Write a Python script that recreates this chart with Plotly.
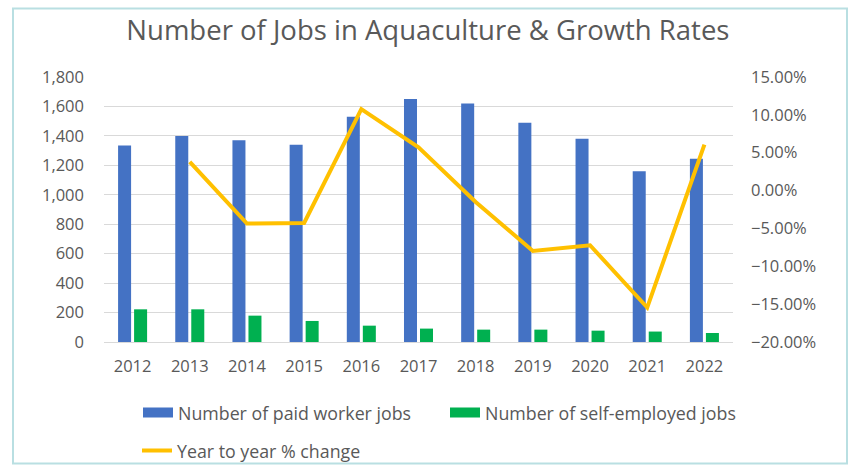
import plotly.graph_objects as go

# Aquaculture employment by year
years = ["2012", "2013", "2014", "2015", "2016", "2017", "2018", "2019", "2020", "2021", "2022"]
paid_jobs = [1335, 1400, 1370, 1340, 1530, 1650, 1620, 1490, 1380, 1160, 1245]
self_employed_jobs = [222, 222, 179, 143, 111, 91, 84, 84, 77, 71, 61]
yoy_change = [None, 0.038, -0.0435, -0.0428, 0.1075, 0.057, -0.015, -0.0798, -0.0722, -0.1545, 0.0608]

BLUE = "#4472C4"
GREEN = "#00B050"
GOLD = "#FFC000"
TEXT = "#595959"
FONT = "Open Sans"

W, H = 849, 466
L, R, T, B = 104, 116, 77, 124
PW, PH = W - L - R, H - T - B


def px_x(p):
    return (p - L) / PW


def px_y(p):
    return (H - B - p) / PH


fig = go.Figure()

fig.add_trace(go.Bar(x=years, y=paid_jobs, name="Number of paid worker jobs",
                     marker=dict(color=BLUE, line=dict(width=0)), showlegend=False))
fig.add_trace(go.Bar(x=years, y=self_employed_jobs, name="Number of self-employed jobs",
                     marker=dict(color=GREEN, line=dict(width=0)), showlegend=False))
fig.add_trace(go.Scatter(x=years, y=yoy_change, name="Year to year % change", yaxis="y2",
                         mode="lines", line=dict(color=GOLD, width=4),
                         connectgaps=False, legend="legend2"))

# wide swatches for the bar series in the legend
fig.add_trace(go.Scatter(x=[None], y=[None], mode="lines", name="Number of paid worker jobs",
                         line=dict(color=BLUE, width=12), legend="legend"))
fig.add_trace(go.Scatter(x=[None], y=[None], mode="lines", name="Number of self-employed jobs",
                         line=dict(color=GREEN, width=12), legend="legend"))

fig.update_layout(
    width=W, height=H,
    margin=dict(l=L, r=R, t=T, b=B, autoexpand=False),
    paper_bgcolor="white", plot_bgcolor="white",
    font=dict(family=FONT, color=TEXT, size=16),
    title=dict(text="Number of Jobs in Aquaculture & Growth Rates",
               x=0.504, xanchor="center", y=1 - 30 / H, yanchor="middle",
               font=dict(family=FONT, size=27.5, color=TEXT)),
    barmode="group", bargap=0.44, bargroupgap=0.1875,
    xaxis=dict(type="category", showgrid=False, zeroline=False,
               showline=True, linecolor="#D9D9D9", linewidth=1,
               ticks="", tickfont=dict(size=16.5, color=TEXT), ticklabelstandoff=9),
    yaxis=dict(range=[0, 1800], dtick=200, tickformat=",d",
               showgrid=True, gridcolor="#D9D9D9", gridwidth=1,
               zeroline=False, showline=False, ticks="",
               tickfont=dict(size=16.5, color=TEXT), ticklabelstandoff=19),
    yaxis2=dict(overlaying="y", side="right", range=[-0.20, 0.15], dtick=0.05,
                tickformat=".2%", showgrid=False, zeroline=False, showline=False,
                ticks="", tickfont=dict(size=16.5, color=TEXT), ticklabelstandoff=17),
    legend=dict(orientation="h", x=px_x(138), xanchor="left",
                y=px_y(413), yanchor="middle", entrywidth=262,
                font=dict(family=FONT, size=17.8, color=TEXT), bgcolor="rgba(0,0,0,0)"),
    legend2=dict(orientation="h", x=px_x(137), xanchor="left",
                 y=px_y(451), yanchor="middle",
                 font=dict(family=FONT, size=17.8, color=TEXT), bgcolor="rgba(0,0,0,0)"),
    shapes=[dict(type="rect", xref="paper", yref="paper",
                 x0=px_x(13), x1=px_x(847), y0=px_y(463.5), y1=px_y(8.5),
                 line=dict(color="#B9DFE2", width=2), fillcolor="rgba(0,0,0,0)",
                 layer="below")],
)

fig.write_html("out.html")
